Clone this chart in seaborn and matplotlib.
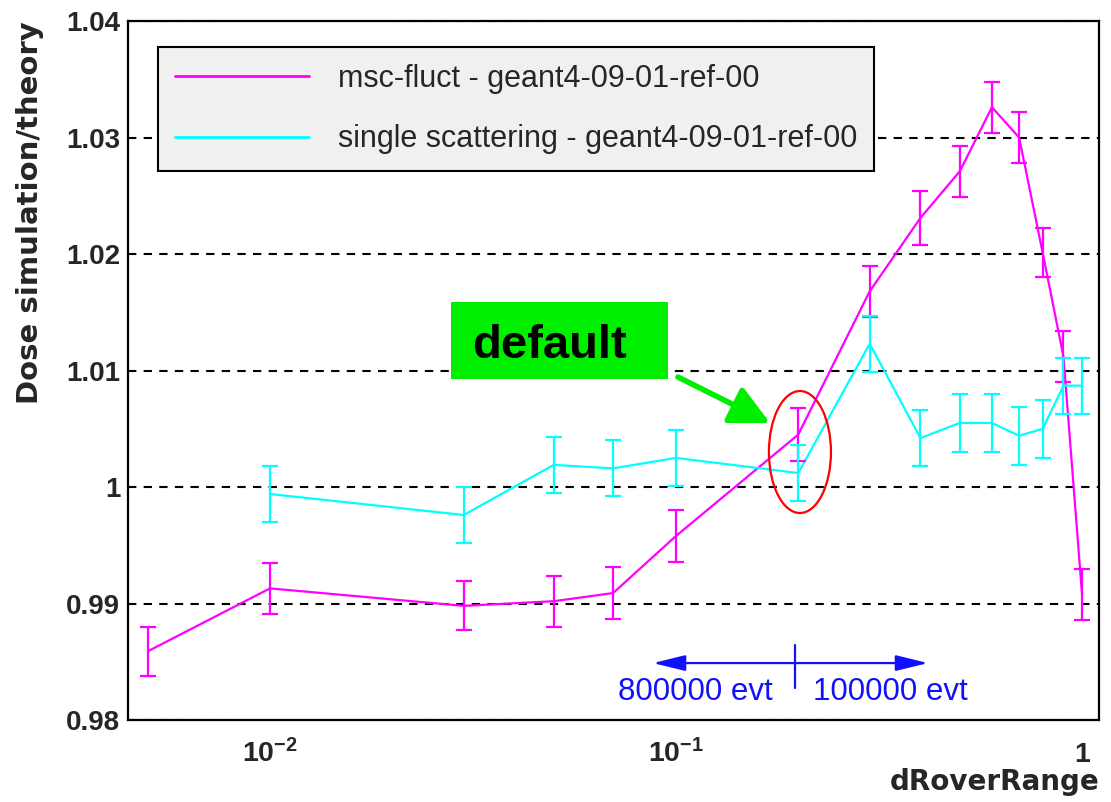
import numpy as np
import pandas as pd
import matplotlib
matplotlib.use("Agg")
import matplotlib.pyplot as plt
import seaborn as sns
from matplotlib.patches import Rectangle, Ellipse
from matplotlib.ticker import FixedLocator, FixedFormatter, LogLocator, NullFormatter, MultipleLocator

# ---------------- data ----------------
series_names = ["msc-fluct - geant4-09-01-ref-00",
                "single scattering - geant4-09-01-ref-00"]
series_colors = ["#ff00ff", "#00ffff"]

x_msc = [0.005, 0.01, 0.03, 0.05, 0.07, 0.1, 0.2, 0.3, 0.4, 0.5, 0.6, 0.7, 0.8, 0.9, 1.0]
y_msc = [0.9859, 0.9913, 0.9898, 0.9902, 0.9909, 0.9958, 1.0045, 1.0168, 1.0231,
         1.0271, 1.0326, 1.0300, 1.0201, 1.0112, 0.9908]
e_msc = [0.0021, 0.0022, 0.0021, 0.0022, 0.0022, 0.0022, 0.0023, 0.0022, 0.0023,
         0.0022, 0.0022, 0.0022, 0.0021, 0.0022, 0.0022]

x_ss = [0.01, 0.03, 0.05, 0.07, 0.1, 0.2, 0.3, 0.4, 0.5, 0.6, 0.7, 0.8, 0.9, 1.0]
y_ss = [0.9994, 0.9976, 1.0019, 1.0016, 1.0025, 1.0012, 1.0123, 1.0042, 1.0055,
        1.0055, 1.0044, 1.0050, 1.0087, 1.0087]
e_ss = [0.0024, 0.0024, 0.0024, 0.0024, 0.0024, 0.0024, 0.0024, 0.0024, 0.0025,
        0.0025, 0.0025, 0.0025, 0.0024, 0.0024]

ytick_vals = [0.98, 0.99, 1.00, 1.01, 1.02, 1.03, 1.04]
ytick_labels = ["0.98", "0.99", "1", "1.01", "1.02", "1.03", "1.04"]
xtick_vals = [0.01, 0.1, 1.0]
xtick_labels = [r"$\mathbf{10^{-2}}$", r"$\mathbf{10^{-1}}$", r"$\mathbf{1}$"]

x_label = "dRoverRange"
y_label = "Dose simulation/theory"
note_default = "default"
note_left = "800000 evt"
note_right = "100000 evt"

# ---------------- style ----------------
sns.set_theme(style="white")
plt.rcParams["font.family"] = ["Liberation Sans", "DejaVu Sans"]
plt.rcParams["mathtext.fontset"] = "custom"
plt.rcParams["mathtext.rm"] = "Liberation Sans"
plt.rcParams["mathtext.bf"] = "Liberation Sans:bold"
plt.rcParams["axes.unicode_minus"] = True

fig = plt.figure(figsize=(11.11, 8.02), dpi=100)
ax = fig.add_axes([0.1152, 0.1022, 0.8740, 0.8716])

df = pd.concat([
    pd.DataFrame({"x": x_msc, "y": y_msc, "err": e_msc, "series": series_names[0]}),
    pd.DataFrame({"x": x_ss, "y": y_ss, "err": e_ss, "series": series_names[1]}),
], ignore_index=True)

palette = dict(zip(series_names, series_colors))
sns.lineplot(data=df, x="x", y="y", hue="series", palette=palette,
             hue_order=series_names, estimator=None, sort=False,
             linewidth=1.6, ax=ax, zorder=3)

for name in series_names:
    sub = df[df["series"] == name]
    ax.errorbar(sub["x"], sub["y"], yerr=sub["err"], fmt="none",
                ecolor=palette[name], elinewidth=1.6, capsize=5.5,
                capthick=1.6, zorder=3)

ax.set_xscale("log")
ax.set_xlim(0.00447, 1.101)
ax.set_ylim(0.98, 1.04)

ax.grid(axis="y", which="major", color="black", linestyle=(0, (4, 3.5)),
        linewidth=1.5)
ax.grid(axis="x", visible=False)
ax.set_axisbelow(True)

ax.xaxis.set_major_locator(FixedLocator(xtick_vals))
ax.xaxis.set_major_formatter(FixedFormatter(xtick_labels))
ax.xaxis.set_minor_locator(LogLocator(base=10, subs=np.arange(2, 10)))
ax.xaxis.set_minor_formatter(NullFormatter())
ax.yaxis.set_major_locator(FixedLocator(ytick_vals))
ax.yaxis.set_major_formatter(FixedFormatter(ytick_labels))
ax.yaxis.set_minor_locator(MultipleLocator(0.002))

ax.tick_params(which="both", direction="in", top=False, right=False,
               color="black", width=1.5)
ax.tick_params(axis="y", which="major", length=21, pad=5.5, labelsize=20)
ax.tick_params(axis="y", which="minor", length=11)
ax.tick_params(axis="x", which="major", length=15, pad=30.5, labelsize=20.5)
ax.tick_params(axis="x", which="minor", length=8)
for lab in ax.get_yticklabels():
    lab.set_fontweight("bold")
for lab in ax.get_xticklabels():
    lab.set_fontweight("bold")
    lab.set_va("baseline")

for sp in ax.spines.values():
    sp.set_color("black")
    sp.set_linewidth(1.6)

ax.set_ylabel(y_label, loc="top", fontsize=21, fontweight="bold",
              family=["DejaVu Sans"])
ax.yaxis.set_label_coords(-0.086, 1.0)
ax.set_xlabel(x_label, loc="right", fontsize=20, fontweight="bold",
              family=["DejaVu Sans"])
ax.xaxis.set_label_coords(1.0, -0.068)

leg = ax.legend(loc="upper left", bbox_to_anchor=(0.0309, 0.9628),
                borderaxespad=0, frameon=True, fancybox=False,
                edgecolor="black", facecolor="#f0f0f0", framealpha=1,
                fontsize=22, handlelength=4.4, handletextpad=0.95,
                borderpad=0.55, labelspacing=1.0)
leg.get_frame().set_linewidth(1.5)
for h in leg.get_lines():
    h.set_linewidth(2)

# ---------------- annotations ----------------
green = "#00ee00"
ax.add_patch(Rectangle((0.3326, 0.4878), 0.2235, 0.1102, transform=ax.transAxes,
                       facecolor=green, edgecolor="none", zorder=5))
ax.text(0.3543, 0.5179, note_default, transform=ax.transAxes, fontsize=34,
        fontweight="bold", color="black", ha="left", va="baseline", zorder=6)
ax.annotate("", xy=(0.6612, 0.4249), xytext=(0.5664, 0.4907),
            xycoords="axes fraction", textcoords="axes fraction",
            arrowprops=dict(arrowstyle="-|>,head_length=1.2,head_width=0.6",
                            color=green, lw=4, mutation_scale=20,
                            shrinkA=0, shrinkB=0), zorder=6)
ax.add_patch(Ellipse((0.692, 0.3834), 0.0639, 0.1745, transform=ax.transAxes,
                     facecolor="none", edgecolor="red", linewidth=1.6, zorder=6))

blue = "#1010ff"
for tip in (0.5407, 0.8239):
    ax.annotate("", xy=(tip, 0.0815), xytext=(0.6869, 0.0815),
                xycoords="axes fraction", textcoords="axes fraction",
                arrowprops=dict(arrowstyle="-|>,head_length=0.9,head_width=0.22",
                                color=blue, lw=1.6, mutation_scale=22,
                                shrinkA=0, shrinkB=0), zorder=6)
ax.plot([0.6869, 0.6869], [0.0458, 0.1073], transform=ax.transAxes,
        color=blue, lw=1.6, zorder=6)
ax.text(0.5046, 0.0286, note_left, transform=ax.transAxes, fontsize=22.5,
        color=blue, ha="left", va="baseline", zorder=6)
ax.text(0.7055, 0.0286, note_right, transform=ax.transAxes, fontsize=22.5,
        color=blue, ha="left", va="baseline", zorder=6)

fig.savefig("out.png", dpi=100)
